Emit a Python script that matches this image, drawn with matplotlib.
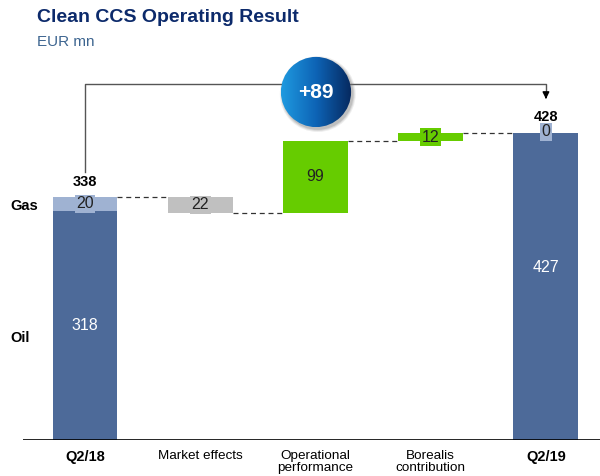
import numpy as np
import matplotlib
matplotlib.use('Agg')
import matplotlib.pyplot as plt
from matplotlib.patches import Circle

plt.rcParams['font.family'] = ['Liberation Sans', 'DejaVu Sans']

categories = ['Q2/18', 'Market effects', 'Operational\nperformance', 'Borealis\ncontribution', 'Q2/19']
bold_cats = ['Q2/18', 'Q2/19']
oil = [318, 427]          # Q2/18, Q2/19
gas = [20, 0]
totals = [338, 428]
deltas = [-22, 99, 12]    # market, operational, borealis
delta_labels = ['22', '99', '12']
change_label = '+89'

OIL_C = '#4d6a99'
GAS_C = '#9fb2d2'
GREY_C = '#c0c0c0'
GREEN_C = '#66cc00'

fig = plt.figure(figsize=(6, 4.76), dpi=100)
ax = fig.add_axes([23/600, 36/476, 577/600, 380/476])
ax.set_xlim(-0.538, 4.469)
ax.set_ylim(0, 528)
w = 0.564

# start / end bars
for i, idx in enumerate([0, 4]):
    ax.bar(idx, oil[i], w, color=OIL_C)
    ax.bar(idx, gas[i], w, bottom=oil[i], color=GAS_C)
    ax.text(idx, oil[i] / 2 * (1.0 if i == 0 else 1.12), str(oil[i]), ha='center', va='center',
            color='white', fontsize=11.5)
    ax.text(idx, oil[i] + gas[i] / 2 + (0 if gas[i] else 1), str(gas[i]), ha='center', va='center',
            fontsize=11.5, color='#222222',
            bbox=dict(boxstyle='square,pad=0.1', fc=GAS_C, ec='none'))
    ax.text(idx, totals[i] + 21, str(totals[i]), ha='center', va='center',
            fontsize=10.5, fontweight='bold')

# waterfall steps
level = totals[0]
prev_right = 0 + w / 2
cols = [GREY_C, GREEN_C, GREEN_C]
for k, d in enumerate(deltas):
    idx = k + 1
    new = level + d
    lo, hi = min(level, new), max(level, new)
    ax.plot([prev_right, idx - w / 2], [level, level], color='#333333', lw=0.9, ls=(0, (4, 3)))
    ax.bar(idx, hi - lo, w, bottom=lo, color=cols[k])
    ax.text(idx, (lo + hi) / 2, delta_labels[k], ha='center', va='center', fontsize=11.5,
            color='#222222', bbox=dict(boxstyle='square,pad=0.1', fc=cols[k], ec='none'))
    level = new
    prev_right = idx + w / 2
ax.plot([prev_right, 4 - w / 2], [level, level], color='#333333', lw=0.9, ls=(0, (4, 3)))

# bracket with arrow
top = 494
ax.plot([0, 0, 4, 4], [373, top, top, 480], color='#555555', lw=1)
ax.annotate('', xy=(4, 470), xytext=(4, 481),
            arrowprops=dict(arrowstyle='-|>', color='black', lw=1, mutation_scale=10))

ax.axhline(0, color='black', lw=1.2)
ax.set_xticks(range(len(categories)))
ax.set_xticklabels(categories, fontsize=9.7, linespacing=1.05)
for lab in ax.get_xticklabels():
    if lab.get_text() in bold_cats:
        lab.set_fontweight('bold')
        lab.set_fontsize(10.5)
ax.tick_params(axis='x', length=0, pad=7)
ax.set_yticks([])
for s in ax.spines.values():
    s.set_visible(False)

fig.text(10/600, 1 - 206/476, 'Gas', fontsize=10.5, fontweight='bold', va='center')
fig.text(10/600, 1 - 338/476, 'Oil', fontsize=10.5, fontweight='bold', va='center')
fig.text(37/600, 1 - 18/476, 'Clean CCS Operating Result', fontsize=14, fontweight='bold',
         color='#0c2a6b', va='center')
fig.text(37/600, 1 - 42/476, 'EUR mn', fontsize=11, color='#3d6590', va='center')

# gradient circle
cax = fig.add_axes([(316 - 40) / 600, 1 - (92 + 40) / 476, 80 / 600, 80 / 476])
cax.set_xlim(-1.14, 1.14)
cax.set_ylim(-1.14, 1.14)
cax.set_aspect('equal')
cax.axis('off')
for r, a in [(1.08, 0.12), (1.05, 0.18), (1.02, 0.25)]:
    cax.add_patch(Circle((0.05, -0.06), r, color='#777777', alpha=a, zorder=0, lw=0))
xs = np.linspace(-1, 1, 200)
grad = np.tile(xs, (200, 1))
cmap = matplotlib.colors.LinearSegmentedColormap.from_list('b', ['#1f9ae0', '#0d63b5', '#06285e'])
im = cax.imshow(grad, extent=(-1, 1, -1, 1), cmap=cmap, origin='lower', zorder=1)
clip = Circle((0, 0), 1.0, transform=cax.transData)
im.set_clip_path(clip)
cax.text(0, 0, change_label, ha='center', va='center', color='white', fontsize=15,
         fontweight='bold', zorder=2)

fig.savefig('out.png', dpi=100)
